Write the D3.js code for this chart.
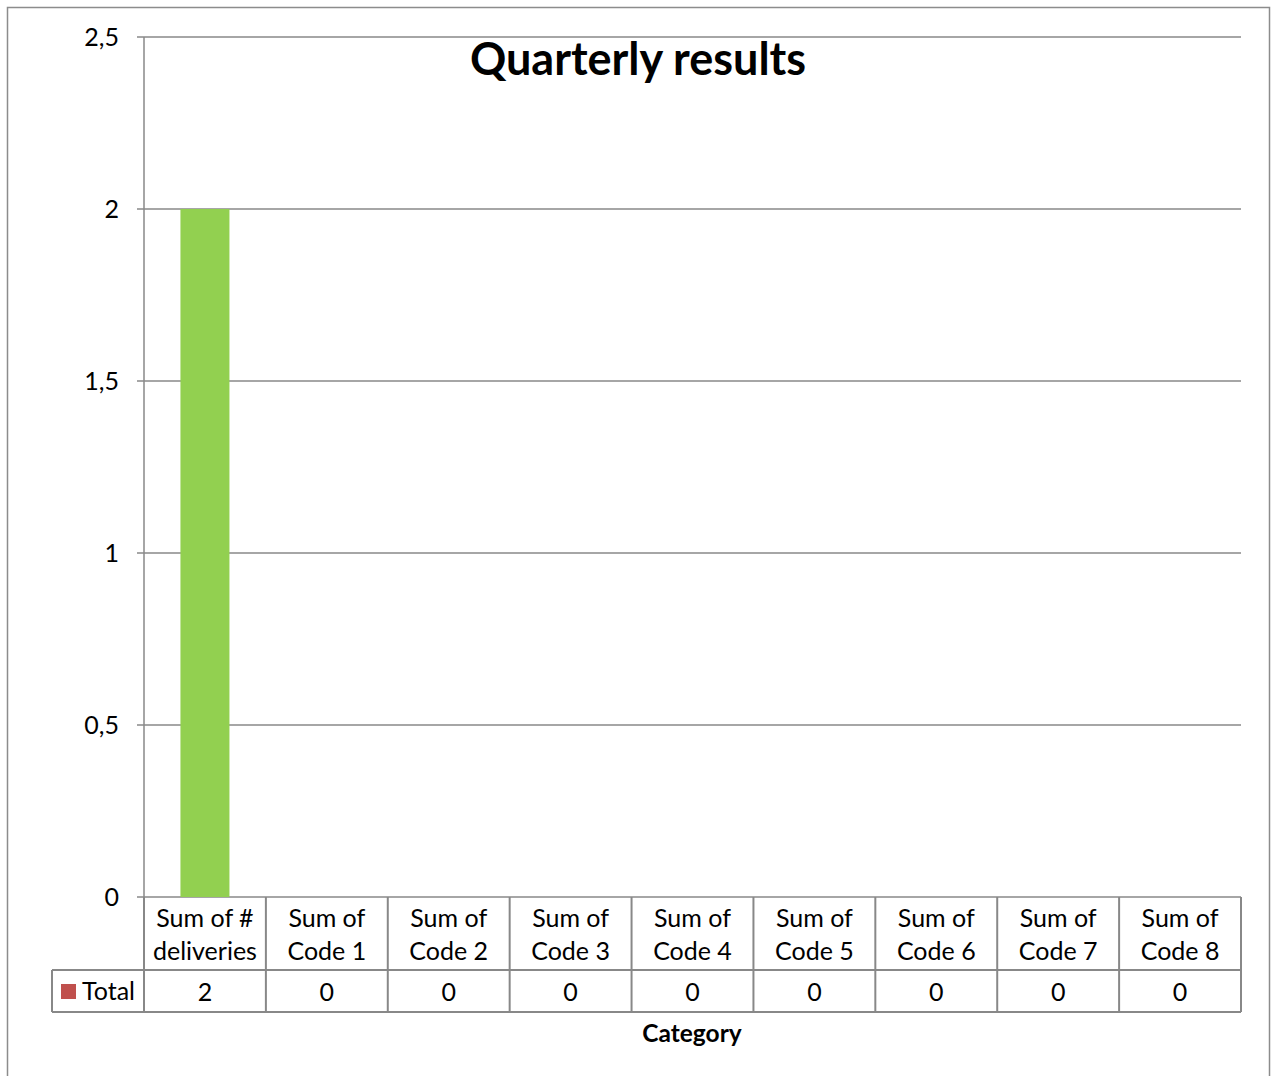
<!DOCTYPE html>
<html><head><meta charset="utf-8">
<script src="https://cdn.jsdelivr.net/npm/d3@7"></script>
<style>body{margin:0;background:#fff}svg{display:block}text{font-family:Lato,"Open Sans",sans-serif}</style>
</head><body><svg id="c" width="1271" height="1076"></svg>
<script>
const categories = ["Sum of #|deliveries","Sum of|Code 1","Sum of|Code 2","Sum of|Code 3","Sum of|Code 4","Sum of|Code 5","Sum of|Code 6","Sum of|Code 7","Sum of|Code 8"];
const totals = [2,0,0,0,0,0,0,0,0];
const yTicks = [0,0.5,1,1.5,2,2.5];
const seriesName = "Total";
const title = "Quarterly results";
const xTitle = "Category";

const svg = d3.select("#c");
const L = 144, R = 1241, T = 37, B = 897;
const headBottom = 970, rowBottom = 1012, legLeft = 52;
const grid = "#888";
const fs = 25;

svg.append("rect").attr("x",7.5).attr("y",7.5).attr("width",1262).attr("height",1080)
  .attr("fill","none").attr("stroke","#8c8c8c").attr("stroke-width",1.5);

const x = d3.scaleBand().domain(categories).range([L,R]).paddingInner(0).paddingOuter(0);
const y = d3.scaleLinear().domain([0,2.5]).range([B,T]);

svg.append("g").selectAll("line").data(yTicks).join("line")
  .attr("x1",137).attr("x2",R).attr("y1",d=>y(d)).attr("y2",d=>y(d))
  .attr("stroke",grid).attr("stroke-width",1.5);
svg.append("line").attr("x1",L).attr("x2",L).attr("y1",T).attr("y2",rowBottom).attr("stroke",grid).attr("stroke-width",1.5);
const fmt = d => String(d).replace(".",",");
svg.append("g").selectAll("text").data(yTicks).join("text")
  .attr("x",119).attr("y",d=>y(d)+9).attr("text-anchor","end")
  .attr("font-size",fs).attr("fill","#000").text(fmt);

const bw = 49;
svg.append("g").selectAll("rect").data(totals).join("rect")
  .attr("x",(d,i)=>x(categories[i])+x.bandwidth()/2-bw/2)
  .attr("y",d=>y(d)).attr("width",bw).attr("height",d=>B-y(d))
  .attr("fill","#92D050");

const tg = svg.append("g");
tg.append("line").attr("x1",R).attr("x2",R).attr("y1",B).attr("y2",rowBottom).attr("stroke",grid).attr("stroke-width",2);
categories.forEach((c,i)=>{
  const x0 = x(c);
  tg.append("line").attr("x1",x0).attr("x2",x0).attr("y1",B).attr("y2",rowBottom).attr("stroke",grid).attr("stroke-width",2);
});
tg.append("line").attr("x1",legLeft).attr("x2",R).attr("y1",headBottom).attr("y2",headBottom).attr("stroke",grid).attr("stroke-width",2);
tg.append("line").attr("x1",legLeft).attr("x2",R).attr("y1",rowBottom).attr("y2",rowBottom).attr("stroke",grid).attr("stroke-width",2);
tg.append("line").attr("x1",legLeft).attr("x2",legLeft).attr("y1",headBottom).attr("y2",rowBottom).attr("stroke",grid).attr("stroke-width",2);

categories.forEach((c,i)=>{
  const cx = x(c)+x.bandwidth()/2;
  c.split("|").forEach((ln,j)=>{
    tg.append("text").attr("x",cx).attr("y",927+j*33).attr("text-anchor","middle")
      .attr("font-size",fs).attr("fill","#000").text(ln);
  });
  tg.append("text").attr("x",cx).attr("y",1001).attr("text-anchor","middle")
    .attr("font-size",fs).attr("fill","#000").text(totals[i]);
});
tg.append("rect").attr("x",61).attr("y",984).attr("width",15).attr("height",15).attr("fill","#C0504D");
tg.append("text").attr("x",82).attr("y",1000).attr("font-size",fs).attr("fill","#000").text(seriesName);

svg.append("text").attr("x",692).attr("y",1042).attr("text-anchor","middle")
  .attr("font-size",24.5).attr("font-weight","bold").text(xTitle);
svg.append("text").attr("x",638).attr("y",75).attr("text-anchor","middle")
  .attr("font-size",45).attr("font-weight","bold").text(title);
</script></body></html>
